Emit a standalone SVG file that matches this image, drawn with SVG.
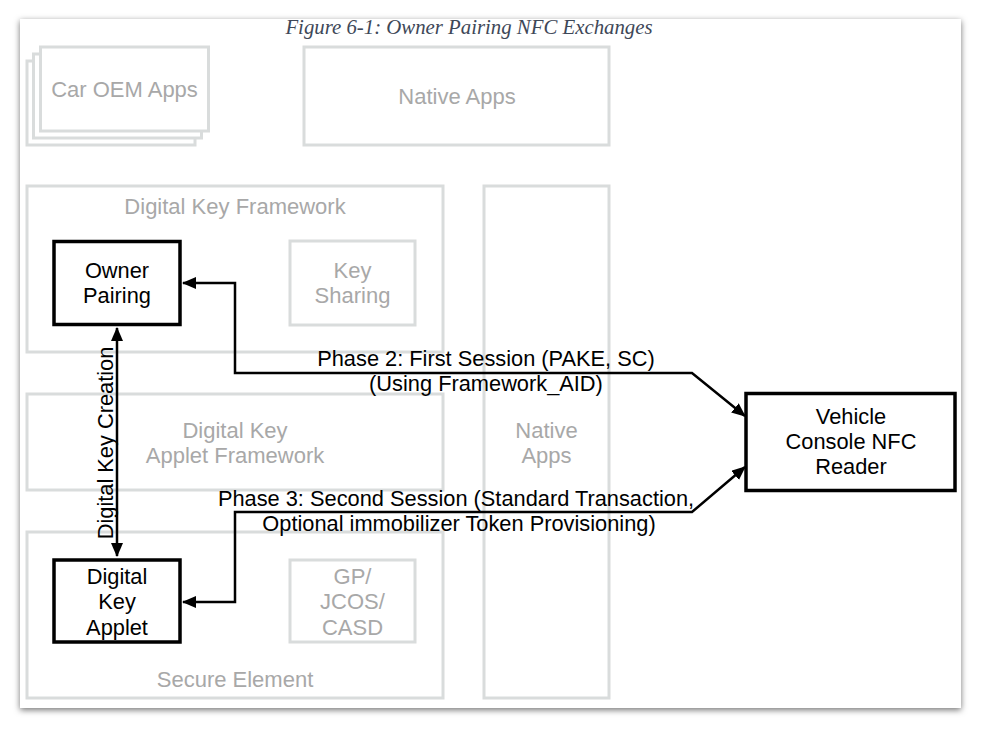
<svg xmlns="http://www.w3.org/2000/svg" width="981" height="729" viewBox="0 0 981 729">
<defs>
<filter id="shadow" x="-5%" y="-5%" width="110%" height="110%">
<feDropShadow dx="0" dy="2" stdDeviation="3" flood-color="#000" flood-opacity="0.55"/>
</filter>
<marker id="arr" viewBox="0 0 14 12" refX="13" refY="6" markerWidth="14" markerHeight="12" markerUnits="userSpaceOnUse" orient="auto-start-reverse">
<path d="M0,0 L14,6 L0,12 Z" fill="#000"/>
</marker>
<style>
.g{fill:none;stroke:#d9dcdc;stroke-width:3}
.gf{fill:#fff;stroke:#d9dcdc;stroke-width:3}
.b{fill:#fff;stroke:#000;stroke-width:3.5}
.gt{font-family:"Liberation Sans",Arial,sans-serif;font-size:22px;fill:#a8a8a8;text-anchor:middle}
.bt{font-family:"Liberation Sans",Arial,sans-serif;font-size:21.8px;fill:#000;text-anchor:middle}
.lt{font-family:"Liberation Sans",Arial,sans-serif;font-size:21.8px;fill:#000;text-anchor:middle}
.c{fill:none;stroke:#000;stroke-width:2.5}
</style>
</defs>
<rect x="0" y="0" width="981" height="729" fill="#fff"/>
<rect x="20" y="19" width="941" height="689" fill="#fff" filter="url(#shadow)"/>
<text x="469" y="34" font-family="Liberation Serif,'Times New Roman',serif" font-style="italic" font-size="20.8" fill="#3e4858" text-anchor="middle">Figure 6-1: Owner Pairing NFC Exchanges</text>

<g id="car-oem-apps">
<rect class="gf" x="27" y="61" width="168" height="84"/>
<rect class="gf" x="33.5" y="54" width="168" height="84"/>
<rect class="gf" x="40.5" y="47" width="168" height="84"/>
<text class="gt" x="124.5" y="97">Car OEM Apps</text>
</g>
<g id="native-apps-top">
<rect class="g" x="304" y="47" width="305" height="98"/>
<text class="gt" x="457" y="104">Native Apps</text>
</g>
<g id="digital-key-framework">
<rect class="g" x="27" y="186" width="416" height="166"/>
<text class="gt" x="235" y="214">Digital Key Framework</text>
</g>
<g id="key-sharing">
<rect class="g" x="290" y="241" width="125" height="84"/>
<text class="gt" x="352.5" y="278">Key</text>
<text class="gt" x="352.5" y="303">Sharing</text>
</g>
<g id="native-apps-side">
<rect class="g" x="484" y="186" width="125" height="512"/>
<text class="gt" x="546.5" y="438">Native</text>
<text class="gt" x="546.5" y="463">Apps</text>
</g>
<g id="digital-key-applet-framework">
<rect class="g" x="27" y="394" width="416" height="96"/>
<text class="gt" x="235" y="438">Digital Key</text>
<text class="gt" x="235" y="463">Applet Framework</text>
</g>
<g id="secure-element">
<rect class="g" x="27" y="532" width="416" height="166"/>
<text class="gt" x="235" y="687">Secure Element</text>
</g>
<g id="gp-jcos-casd">
<rect class="g" x="290" y="560" width="125" height="82"/>
<text class="gt" x="352.5" y="584">GP/</text>
<text class="gt" x="352.5" y="609">JCOS/</text>
<text class="gt" x="352.5" y="635">CASD</text>
</g>
<g id="owner-pairing">
<rect class="b" x="54" y="241.5" width="126" height="83"/>
<text class="bt" x="117" y="278">Owner</text>
<text class="bt" x="117" y="303">Pairing</text>
</g>
<g id="digital-key-applet">
<rect class="b" x="54" y="560" width="126" height="82"/>
<text class="bt" x="117" y="584">Digital</text>
<text class="bt" x="117" y="609">Key</text>
<text class="bt" x="117" y="635">Applet</text>
</g>
<g id="vehicle-reader">
<rect class="b" x="746" y="393.5" width="209" height="97"/>
<text class="bt" x="851" y="424">Vehicle</text>
<text class="bt" x="851" y="449">Console NFC</text>
<text class="bt" x="851" y="474">Reader</text>
</g>

<g id="connectors">
<path class="c" d="M117,328 L117,556" marker-start="url(#arr)" marker-end="url(#arr)"/>
<path class="c" d="M183,283 L235,283 L235,373 L692,373 L745,416" marker-start="url(#arr)" marker-end="url(#arr)"/>
<path class="c" d="M183,602 L235,602 L235,512 L692,512 L745,467" marker-start="url(#arr)" marker-end="url(#arr)"/>
<text class="lt" transform="translate(113,443) rotate(-90)">Digital Key Creation</text>
<text class="lt" x="486" y="366">Phase 2: First Session (PAKE, SC)</text>
<text class="lt" x="486" y="391">(Using Framework_AID)</text>
<text class="lt" x="456" y="506">Phase 3: Second Session (Standard Transaction,</text>
<text class="lt" x="459" y="531">Optional immobilizer Token Provisioning)</text>
</g>
</svg>
